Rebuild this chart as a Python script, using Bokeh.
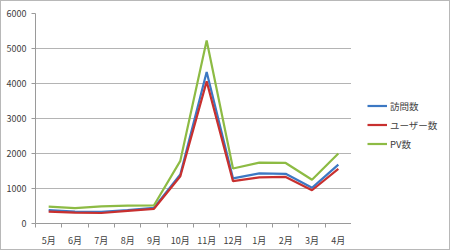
from bokeh.plotting import figure
from bokeh.layouts import row
from bokeh.models import FixedTicker, Legend, LegendItem, Range1d
from bokeh.embed import file_html
from bokeh.resources import INLINE

months = ["5月", "6月", "7月", "8月", "9月", "10月", "11月", "12月", "1月", "2月", "3月", "4月"]
visits = [380, 340, 330, 380, 450, 1400, 4330, 1290, 1430, 1420, 1020, 1680]
users = [340, 310, 300, 360, 420, 1350, 4060, 1210, 1320, 1330, 950, 1560]
pv = [480, 440, 490, 510, 520, 1790, 5230, 1570, 1740, 1730, 1250, 2000]
series_names = ["訪問数", "ユーザー数", "PV数"]
colors = ["#3c78c3", "#c8302f", "#8dbb44"]
y_ticks = [0, 1000, 2000, 3000, 4000, 5000, 6000]

FONT = "Noto Sans CJK JP"
xs = list(range(len(months)))

p = figure(width=350, height=248, output_backend="svg", toolbar_location=None,
           x_range=Range1d(-0.5, len(months) - 0.5), y_range=Range1d(0, 6000),
           min_border_left=34, min_border_right=0, min_border_top=12, min_border_bottom=24)
p.outline_line_color = None
p.background_fill_color = "white"
p.border_fill_color = "white"

for vals, c in zip([visits, users, pv], colors):
    p.line(xs, vals, line_color=c, line_width=2.2)

p.xgrid.grid_line_color = None
p.ygrid.grid_line_color = "#b4b4b4"
p.ygrid.grid_line_width = 1
p.yaxis.ticker = FixedTicker(ticks=y_ticks)
p.xaxis.ticker = FixedTicker(ticks=xs, minor_ticks=[i - 0.5 for i in range(len(months) + 1)])
p.xaxis.major_label_overrides = {i: m for i, m in enumerate(months)}

for ax in [p.xaxis[0], p.yaxis[0]]:
    ax.axis_line_color = "#9a9a9a"
    ax.major_label_text_font = FONT
    ax.major_label_text_font_size = "9px"
    ax.major_label_text_color = "#404040"
    ax.minor_tick_line_color = None

p.xaxis.major_tick_out = 0
p.xaxis.major_tick_in = 0
p.xaxis.minor_tick_line_color = "#9a9a9a"
p.xaxis.minor_tick_out = 4
p.xaxis.minor_tick_in = 0
p.xaxis.major_label_standoff = 6
p.yaxis.major_tick_line_color = "#9a9a9a"
p.yaxis.major_tick_out = 4
p.yaxis.major_tick_in = 0
p.yaxis.major_label_standoff = 5

# legend panel (its lines lie outside the visible range; only the legend shows)
q = figure(width=98, height=248, output_backend="svg", toolbar_location=None,
           x_range=Range1d(0, 1), y_range=Range1d(0, 1),
           min_border_left=0, min_border_right=0, min_border_top=0, min_border_bottom=0)
q.axis.visible = False
q.grid.grid_line_color = None
q.outline_line_color = None
q.background_fill_color = "white"
q.border_fill_color = "white"
leg_renderers = [q.line([5, 6], [5, 6], line_color=c, line_width=2.2) for c in colors]
legend = Legend(items=[LegendItem(label=n, renderers=[r]) for n, r in zip(series_names, leg_renderers)],
                location=(16, 72), padding=0, margin=0, spacing=4,
                glyph_width=20, glyph_height=15, label_standoff=3,
                label_text_font=FONT, label_text_font_size="9.5px", label_text_color="#404040",
                border_line_color=None, background_fill_alpha=0)
q.add_layout(legend, "center")

layout = row(p, q)
layout.styles = {"border": "1px solid #b8b8b8"}

open("out.html", "w").write(file_html(layout, INLINE))
